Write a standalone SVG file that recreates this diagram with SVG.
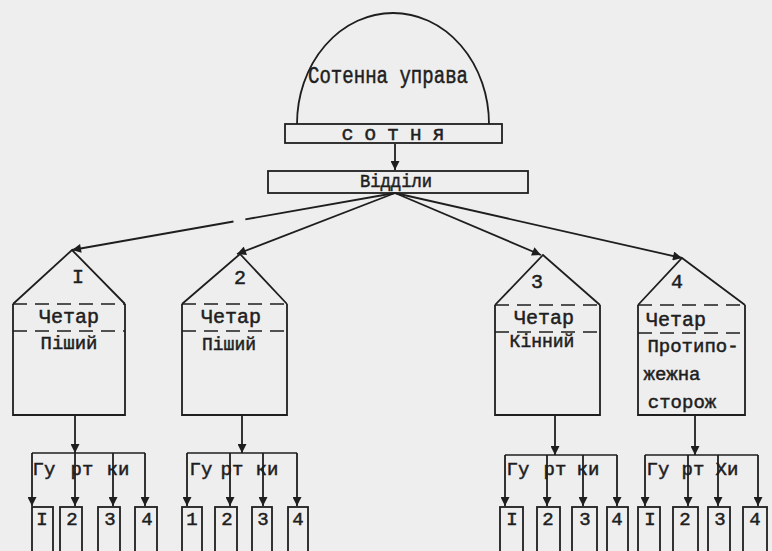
<svg xmlns="http://www.w3.org/2000/svg" width="772" height="551" viewBox="0 0 772 551">
<defs>
<marker id="ah" viewBox="0 0 10 10" refX="10" refY="5" markerWidth="10" markerHeight="9" markerUnits="userSpaceOnUse" orient="auto">
<path d="M0,0 L10,5 L0,10 z" fill="#1e1e1e"/>
</marker>
</defs>
<style>
.ln{fill:none;stroke:#1e1e1e;stroke-width:1.6}
.bx{fill:none;stroke:#1e1e1e;stroke-width:1.8}
.ds{fill:none;stroke:#1e1e1e;stroke-width:1.6;stroke-dasharray:14 8}
.ar{fill:none;stroke:#1e1e1e;stroke-width:1.8;marker-end:url(#ah)}
.tw{font-family:"Liberation Mono","DejaVu Sans Mono",monospace;fill:#1e1e1e;stroke:#1e1e1e;stroke-width:0.5;text-anchor:middle;dominant-baseline:central}
</style>
<rect width="772" height="551" fill="#eeeeee"/>

<g id="upr">
<path class="bx" d="M297,124 A96,111 0 0 1 489,124"/>
<text class="tw" x="388" y="77" font-size="23" textLength="160" lengthAdjust="spacingAndGlyphs">Сотенна управа</text>
</g>
<g id="sotnia">
<rect class="bx" x="285" y="124" width="217" height="19"/>
<text class="tw" x="393" y="134" font-size="20" textLength="103" lengthAdjust="spacing">с о т н я</text>
</g>
<g id="viddily">
<rect class="bx" x="268" y="171" width="260" height="22"/>
<text class="tw" x="396" y="182" font-size="18" textLength="72" lengthAdjust="spacingAndGlyphs">Відділи</text>
</g>

<g id="house1">
<polyline class="bx" points="13,304 72,250 125,304"/>
<polyline class="bx" points="13,304 13,415 125,415 125,304"/>
<line class="ds" x1="13" y1="304" x2="125" y2="304"/>
<line class="ds" x1="13" y1="331" x2="125" y2="331"/>
<text class="tw" x="78" y="277" font-size="20">I</text>
<text class="tw" x="69" y="317" font-size="20">Четар</text>
<text class="tw" x="69" y="344" font-size="19">Піший</text>
</g>
<g id="house2">
<polyline class="bx" points="182,304 240,254 287,304"/>
<polyline class="bx" points="182,304 182,415 287,415 287,304"/>
<line class="ds" x1="182" y1="304" x2="287" y2="304"/>
<line class="ds" x1="182" y1="331" x2="287" y2="331"/>
<text class="tw" x="240" y="278" font-size="20">2</text>
<text class="tw" x="231" y="317" font-size="20">Четар</text>
<text class="tw" x="229" y="345" font-size="18">Піший</text>
</g>
<g id="house3">
<polyline class="bx" points="495,305 543,255 600,305"/>
<polyline class="bx" points="495,305 495,415 600,415 600,305"/>
<line class="ds" x1="495" y1="305" x2="600" y2="305"/>
<line class="ds" x1="495" y1="332" x2="600" y2="332"/>
<text class="tw" x="537" y="282" font-size="20">3</text>
<text class="tw" x="544" y="318" font-size="20">Четар</text>
<text class="tw" x="542" y="342" font-size="18">Кінний</text>
</g>
<g id="house4">
<polyline class="bx" points="638,305 682,258 745,305"/>
<polyline class="bx" points="638,305 638,415 745,415 745,305"/>
<line class="ds" x1="638" y1="305" x2="745" y2="305"/>
<line class="ds" x1="638" y1="333" x2="745" y2="333"/>
<text class="tw" x="677" y="282" font-size="20">4</text>
<text class="tw" x="676" y="320" font-size="20">Четар</text>
<text class="tw" x="693" y="347" font-size="19">Протипо-</text>
<text class="tw" x="672" y="375" font-size="19">жежна</text>
<text class="tw" x="682" y="403" font-size="19">сторож</text>
</g>

<g id="g1">
<rect class="bx" x="32" y="507" width="21" height="60"/>
<rect class="bx" x="60" y="507" width="22" height="60"/>
<rect class="bx" x="98" y="507" width="22" height="60"/>
<rect class="bx" x="135" y="507" width="22" height="60"/>
<text class="tw" x="42" y="520" font-size="19">I</text>
<text class="tw" x="72" y="520" font-size="19">2</text>
<text class="tw" x="110" y="520" font-size="19">3</text>
<text class="tw" x="147" y="520" font-size="19">4</text>
</g>
<g id="g2">
<rect class="bx" x="182" y="507" width="20" height="60"/>
<rect class="bx" x="215" y="507" width="22" height="60"/>
<rect class="bx" x="252" y="507" width="20" height="60"/>
<rect class="bx" x="288" y="507" width="20" height="60"/>
<text class="tw" x="192" y="520" font-size="19">1</text>
<text class="tw" x="227" y="520" font-size="19">2</text>
<text class="tw" x="263" y="520" font-size="19">3</text>
<text class="tw" x="298" y="520" font-size="19">4</text>
</g>
<g id="g3">
<rect class="bx" x="500" y="507" width="23" height="60"/>
<rect class="bx" x="537" y="507" width="23" height="60"/>
<rect class="bx" x="572" y="507" width="25" height="60"/>
<rect class="bx" x="607" y="507" width="21" height="60"/>
<text class="tw" x="512" y="520" font-size="19">I</text>
<text class="tw" x="548" y="520" font-size="19">2</text>
<text class="tw" x="585" y="520" font-size="19">3</text>
<text class="tw" x="617" y="520" font-size="19">4</text>
</g>
<g id="g4">
<rect class="bx" x="638" y="507" width="22" height="60"/>
<rect class="bx" x="673" y="507" width="25" height="60"/>
<rect class="bx" x="708" y="507" width="22" height="60"/>
<rect class="bx" x="743" y="507" width="24" height="60"/>
<text class="tw" x="650" y="520" font-size="19">I</text>
<text class="tw" x="685" y="520" font-size="19">2</text>
<text class="tw" x="720" y="520" font-size="19">3</text>
<text class="tw" x="755" y="520" font-size="19">4</text>
</g>

<g id="connectors">
<line class="ar" x1="395" y1="144" x2="395" y2="170"/>
<line class="ar" x1="395" y1="193" x2="72" y2="250" stroke-dasharray="152 12 400"/>
<line class="ar" x1="395" y1="193" x2="237" y2="254"/>
<line class="ar" x1="395" y1="193" x2="541" y2="255"/>
<line class="ar" x1="395" y1="193" x2="682" y2="258"/>

<line class="ar" x1="75" y1="415" x2="75" y2="453"/>
<line class="ln" x1="32" y1="453" x2="145" y2="453"/>
<line class="ar" x1="32" y1="453" x2="32" y2="506"/>
<line class="ar" x1="75" y1="453" x2="75" y2="506"/>
<line class="ar" x1="113" y1="453" x2="113" y2="506"/>
<line class="ar" x1="145" y1="453" x2="145" y2="506"/>

<line class="ar" x1="242" y1="415" x2="242" y2="453"/>
<line class="ln" x1="187" y1="453" x2="297" y2="453"/>
<line class="ar" x1="187" y1="453" x2="187" y2="506"/>
<line class="ar" x1="230" y1="453" x2="230" y2="506"/>
<line class="ar" x1="263" y1="453" x2="263" y2="506"/>
<line class="ar" x1="297" y1="453" x2="297" y2="506"/>

<line class="ar" x1="555" y1="415" x2="555" y2="455"/>
<line class="ln" x1="505" y1="455" x2="617" y2="455"/>
<line class="ar" x1="505" y1="455" x2="505" y2="506"/>
<line class="ar" x1="547" y1="455" x2="547" y2="506"/>
<line class="ar" x1="583" y1="455" x2="583" y2="506"/>
<line class="ar" x1="617" y1="455" x2="617" y2="506"/>

<line class="ar" x1="695" y1="415" x2="695" y2="455"/>
<line class="ln" x1="645" y1="455" x2="758" y2="455"/>
<line class="ar" x1="645" y1="455" x2="645" y2="506"/>
<line class="ar" x1="688" y1="455" x2="688" y2="506"/>
<line class="ar" x1="718" y1="455" x2="718" y2="506"/>
<line class="ar" x1="758" y1="455" x2="758" y2="506"/>

<text class="tw" x="44" y="470" font-size="19">Гу</text>
<text class="tw" x="82" y="470" font-size="19">рт</text>
<text class="tw" x="118" y="470" font-size="19">ки</text>
<text class="tw" x="201" y="470" font-size="19">Гу</text>
<text class="tw" x="232" y="470" font-size="19">рт</text>
<text class="tw" x="267" y="470" font-size="19">ки</text>
<text class="tw" x="518" y="470" font-size="19">Гу</text>
<text class="tw" x="555" y="470" font-size="19">рт</text>
<text class="tw" x="588" y="470" font-size="19">ки</text>
<text class="tw" x="658" y="470" font-size="19">Гу</text>
<text class="tw" x="693" y="470" font-size="19">рт</text>
<text class="tw" x="727" y="470" font-size="19">Хи</text>
</g>
</svg>
